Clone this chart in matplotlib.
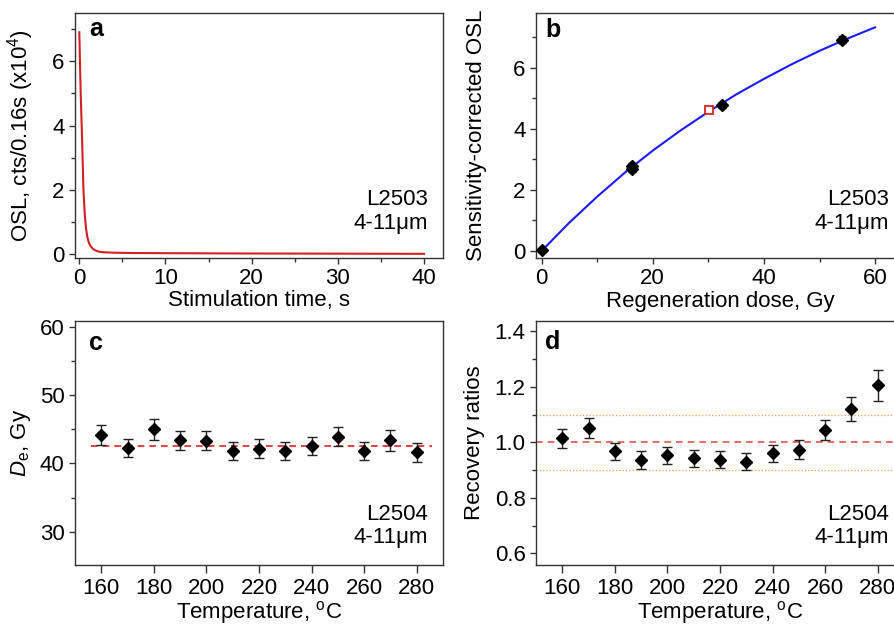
import numpy as np
import matplotlib.pyplot as plt
from matplotlib.ticker import MultipleLocator

plt.rcParams['font.family'] = ['Liberation Sans', 'DejaVu Sans']
plt.rcParams['mathtext.fontset'] = 'custom'
plt.rcParams['mathtext.rm'] = 'Liberation Sans'
plt.rcParams['mathtext.it'] = 'Liberation Sans:italic'
plt.rcParams['font.size'] = 16
plt.rcParams['xtick.labelsize'] = 16
plt.rcParams['ytick.labelsize'] = 16

# (a) OSL decay curve
t_stim = [0, 0.16, 0.32, 0.48, 0.64, 0.8, 0.96, 1.12, 1.28, 1.6, 2.0, 2.4,
          3.0, 4.0, 6.0, 10, 15, 20, 25, 30, 35, 40]
osl = [6.9, 5.0, 3.6, 2.0, 1.2, 0.75, 0.5, 0.35, 0.26, 0.16, 0.1, 0.07,
       0.055, 0.045, 0.035, 0.03, 0.025, 0.02, 0.018, 0.015, 0.012, 0.01]

# (b) dose response curve
dose_fit = [0, 5, 10, 15, 20, 25, 30, 35, 40, 45, 50, 55, 60]
osl_fit = [0, 0.93, 1.78, 2.57, 3.29, 3.95, 4.56, 5.13, 5.64, 6.12, 6.56, 6.96, 7.33]
dose_pts = [0, 16.2, 16.2, 32.4, 54]
lx_pts = [0.03, 2.8, 2.7, 4.79, 6.93]
lx_err = [0.06, 0.1, 0.1, 0.1, 0.12]
de_dose = 30.2
de_lx = 4.62

# (c) preheat plateau
temps = [160, 170, 180, 190, 200, 210, 220, 230, 240, 250, 260, 270, 280]
de = [44.2, 42.3, 45.0, 43.4, 43.3, 41.85, 42.15, 41.85, 42.6, 43.9, 41.85, 43.4, 41.65]
de_err = [1.5, 1.35, 1.5, 1.4, 1.4, 1.3, 1.4, 1.3, 1.3, 1.4, 1.3, 1.55, 1.4]
de_mean = 42.6

# (d) recovery ratios
rec = [1.014, 1.052, 0.968, 0.937, 0.953, 0.943, 0.938, 0.930, 0.961, 0.974, 1.044, 1.119, 1.205]
rec_err = [0.034, 0.035, 0.031, 0.032, 0.031, 0.031, 0.030, 0.030, 0.031, 0.034, 0.035, 0.043, 0.056]

fig = plt.figure(figsize=(8.95, 6.26), dpi=100)
W, H = 895, 626


def add_ax(left, top, w, h):
    return fig.add_axes([left / W, 1 - (top + h) / H, w / W, h / H])


axa = add_ax(75, 13, 368, 245)
axb = add_ax(536, 13, 368, 245)
axc = add_ax(75, 321, 368, 244)
axd = add_ax(536, 321, 368, 244)

for ax in [axa, axb, axc, axd]:
    for s in ax.spines.values():
        s.set_color('#333333')
        s.set_linewidth(1.0)
    ax.tick_params(which='major', direction='out', length=4.5, width=1, color='#333333', pad=3)
    ax.tick_params(which='minor', direction='out', length=3, width=1, color='#333333')
    ax.tick_params(top=False, right=False)

# a
axa.plot(t_stim, osl, color='#d42020', lw=1.5)
axa.set_xlim(-0.5, 42.2)
axa.set_ylim(-0.12, 7.5)
axa.xaxis.set_major_locator(MultipleLocator(10))
axa.xaxis.set_minor_locator(MultipleLocator(5))
axa.yaxis.set_major_locator(MultipleLocator(2))
axa.yaxis.set_minor_locator(MultipleLocator(1))
axa.set_xlabel('Stimulation time, s')
axa.set_ylabel('OSL, cts/0.16s (x10$^4$)')
axa.xaxis.set_label_coords(0.5, -0.13)
axa.yaxis.set_label_coords(-0.105, 0.5)
axa.text(0.058, 0.935, 'a', transform=axa.transAxes, fontweight='bold', fontsize=18,
         ha='center', va='center')
axa.text(0.96, 0.10, 'L2503\n4-11μm', transform=axa.transAxes, ha='right', va='bottom',
         linespacing=1.15)

# b
axb.plot(dose_fit, osl_fit, color='#1a1aff', lw=1.5, zorder=2)
axb.errorbar(dose_pts, lx_pts, yerr=lx_err, fmt='D', color='black', ms=6,
             capsize=3, elinewidth=1, ecolor='#222222', zorder=3)
axb.plot([de_dose], [de_lx], 's', mfc='white', mec='#e02020', ms=5.5, mew=1.3, zorder=4)
axb.set_xlim(-1, 65.2)
axb.set_ylim(-0.23, 7.8)
axb.xaxis.set_major_locator(MultipleLocator(20))
axb.xaxis.set_minor_locator(MultipleLocator(10))
axb.yaxis.set_major_locator(MultipleLocator(2))
axb.yaxis.set_minor_locator(MultipleLocator(1))
axb.set_xlabel('Regeneration dose, Gy')
axb.set_ylabel('Sensitivity-corrected OSL')
axb.xaxis.set_label_coords(0.5, -0.135)
axb.yaxis.set_label_coords(-0.133, 0.5)
axb.text(0.046, 0.93, 'b', transform=axb.transAxes, fontweight='bold', fontsize=18,
         ha='center', va='center')
axb.text(0.96, 0.10, 'L2503\n4-11μm', transform=axb.transAxes, ha='right', va='bottom',
         linespacing=1.15)

# c
axc.errorbar(temps, de, yerr=de_err, fmt='D', color='black', ms=6, capsize=3.5,
             elinewidth=1, ecolor='#222222', zorder=3)
axc.plot([156, 286], [de_mean, de_mean], '--', color='#e02020', lw=1.2, dashes=(4, 3), zorder=2)
axc.set_xlim(150, 290)
axc.set_ylim(25.1, 60.9)
axc.xaxis.set_major_locator(MultipleLocator(20))
axc.yaxis.set_major_locator(MultipleLocator(10))
axc.yaxis.set_minor_locator(MultipleLocator(5))
axc.tick_params(axis='x', which='major', length=5.5, pad=4)
axc.set_xlabel('Temperature, $^{\\rm o}$C')
axc.set_ylabel('$\\it{D}$$_{\\rm e}$, Gy')
axc.xaxis.set_label_coords(0.5, -0.138)
axc.yaxis.set_label_coords(-0.115, 0.5)
axc.text(0.058, 0.91, 'c', transform=axc.transAxes, fontweight='bold', fontsize=18,
         ha='center', va='center')
axc.text(0.96, 0.07, 'L2504\n4-11μm', transform=axc.transAxes, ha='right', va='bottom',
         linespacing=1.15)

# d
axd.errorbar(temps, rec, yerr=rec_err, fmt='D', color='black', ms=6, capsize=3.5,
             elinewidth=1, ecolor='#222222', zorder=3)
axd.axhline(1.0, ls='--', color='#e85050', lw=1.2, dashes=(4, 3), zorder=2)
axd.axhline(1.1, ls=':', color='#f0a040', lw=0.9, zorder=1)
axd.axhline(0.9, ls=':', color='#f0a040', lw=0.9, zorder=1)
axd.set_xlim(150, 290)
axd.set_ylim(0.558, 1.437)
axd.xaxis.set_major_locator(MultipleLocator(20))
axd.yaxis.set_major_locator(MultipleLocator(0.2))
axd.yaxis.set_minor_locator(MultipleLocator(0.1))
axd.yaxis.set_major_formatter(plt.FormatStrFormatter('%.1f'))
axd.tick_params(axis='x', which='major', length=5.5, pad=4)
axd.set_xlabel('Temperature, $^{\\rm o}$C')
axd.set_ylabel('Recovery ratios')
axd.xaxis.set_label_coords(0.5, -0.138)
axd.yaxis.set_label_coords(-0.139, 0.5)
axd.text(0.046, 0.915, 'd', transform=axd.transAxes, fontweight='bold', fontsize=18,
         ha='center', va='center')
axd.text(0.96, 0.07, 'L2504\n4-11μm', transform=axd.transAxes, ha='right', va='bottom',
         linespacing=1.15)

fig.savefig('out.png', dpi=100)
